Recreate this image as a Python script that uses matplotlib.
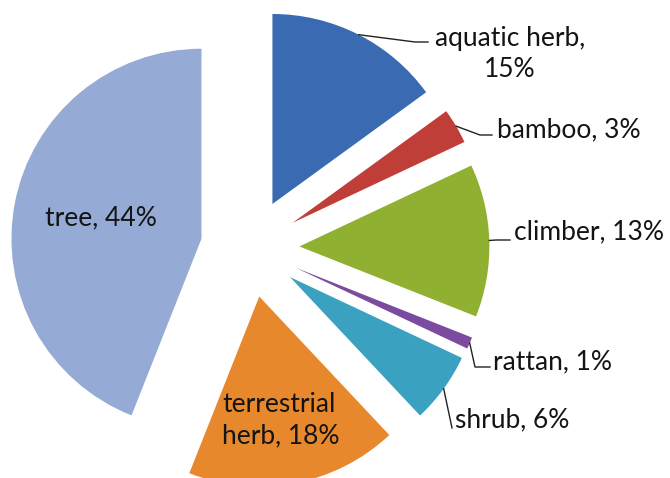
import matplotlib
matplotlib.use("Agg")
import matplotlib.pyplot as plt
import numpy as np

# slice data, clockwise from 12 o'clock
names = ["aquatic herb", "bamboo", "climber", "rattan", "shrub", "terrestrial herb", "tree"]
shares = [15, 3, 13, 1, 6, 18, 44]
colors = ["#3a6bb2", "#c03e38", "#8fb030", "#7a4b9e", "#3aa2c0", "#e8882c", "#95aad5"]

plt.rcParams["font.family"] = ["Lato", "DejaVu Sans"]

W, H = 670, 478
R_PX = 190.0          # pie radius in pixels
CX, CY = 250, 248     # pie centre in pixels (from top-left)
EXPLODE = 0.26

fig = plt.figure(figsize=(W / 100, H / 100), dpi=100)
ax = fig.add_axes([0, 0, 1, 1])
ax.axis("off")


def px(x, y):
    # pixel position -> data coordinates
    return (x - CX) / R_PX, (CY - y) / R_PX


wedges, _ = ax.pie(shares, colors=colors, startangle=90, counterclock=False,
                   explode=[EXPLODE] * len(shares), radius=1,
                   wedgeprops=dict(linewidth=0))
ax.set_xlim(-CX / R_PX, (W - CX) / R_PX)
ax.set_ylim(-(H - CY) / R_PX, CY / R_PX)
ax.set_aspect("equal")

labels = ["%s, %d%%" % (n, s) for n, s in zip(names, shares)]
fs = 19
tc = "#141414"

# outside labels: (text, text anchor px, ha, elbow points px)
outside = {
    0: ("aquatic herb,\n15%", (510, 54), "center", [(415, 42), (428, 42)]),
    1: (labels[1], (497, 130), "left", [(480, 135), (492, 135)]),
    2: (labels[2], (514, 232), "left", [(496, 240), (510, 240)]),
    3: (labels[3], (493, 362), "left", [(475, 367), (490, 367)]),
    4: (labels[4], (455, 420), "left", [(452, 428)]),
}

for i, (txt, pos, ha, elbow) in outside.items():
    w = wedges[i]
    mid = np.deg2rad((w.theta1 + w.theta2) / 2)
    cx, cy = w.center
    start = (cx + w.r * np.cos(mid), cy + w.r * np.sin(mid))
    pts = [start] + [px(*p) for p in elbow]
    xs, ys = zip(*pts)
    ax.plot(xs, ys, color="#222222", lw=1.0)
    tx, ty = px(*pos)
    ax.text(tx, ty, txt, ha=ha, va="center", fontsize=fs, color=tc,
            multialignment="center", linespacing=1.3)

# inside labels
ax.text(*px(101, 218), labels[6], ha="center", va="center", fontsize=fs, color=tc)
ax.text(*px(281, 420), "terrestrial\nherb, 18%", ha="center", va="center", fontsize=fs,
        color=tc, multialignment="left", linespacing=1.3)

fig.savefig("out.png", dpi=100, facecolor="white")
